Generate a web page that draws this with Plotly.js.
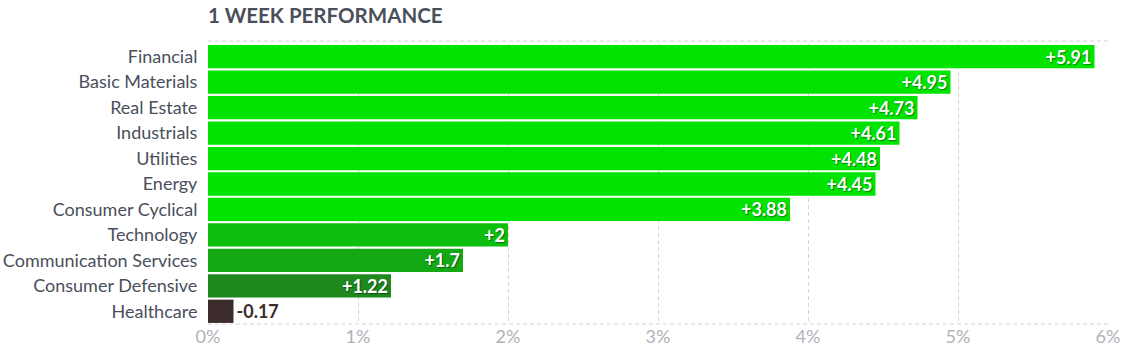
<!DOCTYPE html>
<html>
<head>
<meta charset="utf-8">
<script src="https://cdn.plot.ly/plotly-3.0.1.min.js"></script>
<style>html,body{margin:0;padding:0;background:#fff;}#chart{width:1130px;height:351px;}</style>
</head>
<body>
<div id="chart"></div>
<script>
const sectors = ["Financial","Basic Materials","Real Estate","Industrials","Utilities","Energy","Consumer Cyclical","Technology","Communication Services","Consumer Defensive","Healthcare"];
const changes = [5.91,4.95,4.73,4.61,4.48,4.45,3.88,2,1.7,1.22,-0.17];
const barColors = ["#00e400","#00e400","#00e400","#00e400","#00e400","#00e400","#00e400","#0dbf0d","#14a814","#1e881e","#3d2c2c"];
const tickVals = [0,1,2,3,4,5,6];
const tickText = ["0%","1%","2%","3%","4%","5%","6%"];

const labels = changes.map(v => (v > 0 ? "+" : "") + v);
const positions = changes.map(v => v > 0 ? "inside" : "outside");

Plotly.newPlot("chart", [{
  type: "bar",
  orientation: "h",
  y: sectors,
  x: changes.map(Math.abs),
  marker: {color: barColors, line: {width: 0}},
  text: labels,
  textposition: positions,
  textangle: 0,
  insidetextanchor: "end",
  constraintext: "none",
  cliponaxis: false,
  insidetextfont: {family: "Lato, sans-serif", size: 18, weight: 700, color: "#ffffff", shadow: "1px 1px 1px rgba(0,0,0,0.45)"},
  outsidetextfont: {family: "Lato, sans-serif", size: 18, weight: 700, color: "#3d2c2c"},
  hoverinfo: "none"
}], {
  width: 1130, height: 351,
  margin: {l: 208, r: 22, t: 44, b: 27, pad: 0},
  paper_bgcolor: "#ffffff", plot_bgcolor: "#ffffff",
  bargap: 0.085,
  showlegend: false,
  title: {text: "1 WEEK PERFORMANCE", x: 0, xanchor: "left", xref: "paper", y: 0.955, yanchor: "middle",
          font: {family: "Lato, sans-serif", size: 20.5, weight: 700, color: "#4a4f5c"}},
  xaxis: {range: [0, 6], tickvals: tickVals, ticktext: tickText, showgrid: true, gridcolor: "#d3d3d8", griddash: "4px,3px", gridwidth: 1,
          zeroline: false, showline: false, ticks: "", tickfont: {family: "Lato, sans-serif", size: 18, color: "#b0b2ba"}, fixedrange: true},
  yaxis: {autorange: "reversed", showgrid: false, zeroline: false, showline: false, ticks: "outside", ticklen: 6, tickcolor: "rgba(0,0,0,0)",
          tickfont: {family: "Lato, sans-serif", size: 18, color: "#4a4f5c"}, fixedrange: true},
  shapes: [
    {type: "line", xref: "paper", yref: "paper", ysizemode: "pixel", yanchor: 1, x0: 0, x1: 1, y0: 3, y1: 3, line: {color: "#d3d3d8", width: 1, dash: "4px,3px"}, layer: "below"},
    {type: "line", xref: "paper", yref: "paper", x0: 0, x1: 1, y0: 0, y1: 0, line: {color: "#d3d3d8", width: 1, dash: "4px,3px"}, layer: "below"}
  ]
}, {displayModeBar: false, staticPlot: true});
</script>
</body>
</html>
